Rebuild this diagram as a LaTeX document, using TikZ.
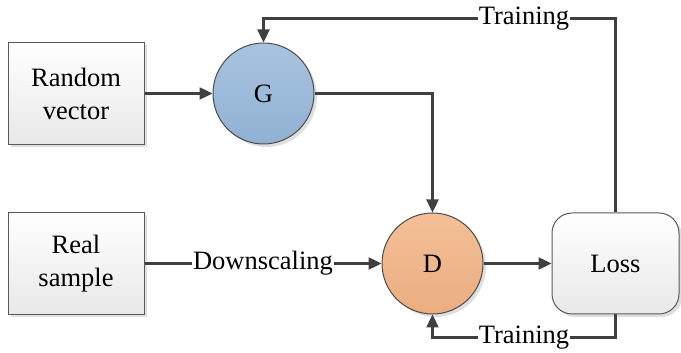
\documentclass[tikz,border=0pt]{standalone}
\usepackage{fontspec}
\setmainfont{LiberationSerif-Regular.ttf}
\usetikzlibrary{arrows.meta}
\usetikzlibrary{shadows}
\usetikzlibrary{positioning}
\usetikzlibrary{calc}
\definecolor{gtop}{HTML}{A7C3DF}
\definecolor{gbot}{HTML}{91B1D3}
\definecolor{dtop}{HTML}{F4BF97}
\definecolor{dbot}{HTML}{EAAE80}
\definecolor{linegray}{HTML}{404040}

\begin{document}
\begin{tikzpicture}[x=1pt,y=1pt,>={Triangle[length=13pt,width=12pt]},node distance=68pt,font=\fontsize{26.5}{33}\selectfont]
\tikzstyle{shade}=[drop shadow={shadow xshift=3pt,shadow yshift=-3pt,opacity=.25,fill=black!50}]
\tikzstyle{box}=[draw=black!65,line width=1pt,align=center,minimum width=136pt,minimum height=102pt,top color=white,bottom color=black!9,shade]
\tikzstyle{lossbox}=[box,rounded corners=20pt,minimum width=127pt,minimum height=101pt]
\tikzstyle{net}=[circle,draw=black!70,line width=1pt,minimum size=101pt,inner sep=0pt,shade]
\tikzstyle{link}=[draw=linegray,line width=2.4pt]
\tikzstyle{lbl}=[fill=white,inner sep=1pt]

\useasboundingbox (0,0) rectangle (681,353);

\node[box] (rand) at (76,259.5) {Random\\vector};
\node[box,below=67pt of rand] (real) {Real\\sample};
\node[net,top color=gtop,bottom color=gbot,right=of rand] (G) {G};
\node[net,top color=dtop,bottom color=dbot,right=237pt of real] (D) {D};
\node[lossbox,right=of D] (loss) {Loss};

\draw[link,->] (rand) -- (G);
\draw[link,->] (G) -| (D);
\draw[link,->] (real) -- node[lbl]{Downscaling} (D);
\draw[link,->] (D) -- (loss);

\coordinate[above=24pt of G.north] (gtop2);
\coordinate[below=23pt of D.south] (dbot2);
\draw[link,->] (loss.north) |- node[lbl,pos=.63]{Training} (gtop2) -- (G.north);
\draw[link,->] (loss.south) |- node[lbl,pos=.75]{Training} (dbot2) -- (D.south);
\end{tikzpicture}
\end{document}
